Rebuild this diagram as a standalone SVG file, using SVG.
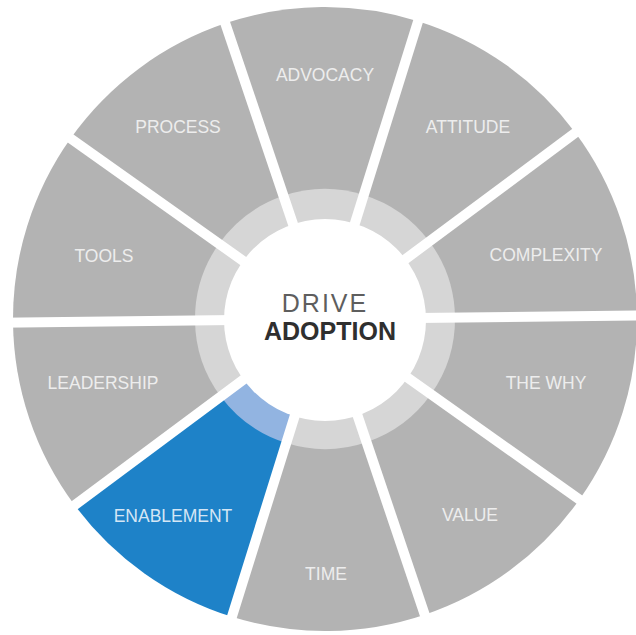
<svg xmlns="http://www.w3.org/2000/svg" xmlns:xlink="http://www.w3.org/1999/xlink" width="636" height="635" viewBox="0 0 636 635">
  <defs>
    <!-- 36-degree wedge of the outer wheel and of the inner ring, drawn from angle 0 counterclockwise -->
    <path id="wedge" d="M0,0 L312,0 A312,312 0 0 0 252.41,-183.39 Z"/>
    <path id="ringWedge" d="M0,0 L130,0 A130,130 0 0 0 105.17,-76.41 Z"/>
    <line id="divider" x1="0" y1="0" x2="340" y2="0"/>
    <style>
      .seg { fill: #b3b3b3; }
      .ring { fill: #d6d6d6; }
      .seg.active { fill: #1e82c8; }
      .ring.active { fill: #92b4e1; }
      .label { font-family: "Liberation Sans", Arial, sans-serif; font-size: 17.5px; fill: #ededed; text-anchor: middle; }
      .label.active { fill: #d4e6f5; }
      .divider { stroke: #ffffff; stroke-width: 10; }
      .title { font-family: "Liberation Sans", Arial, sans-serif; font-size: 25px; text-anchor: middle; }
    </style>
  </defs>

  <rect width="636" height="635" fill="#ffffff"/>

  <g id="complexity">
    <use xlink:href="#wedge" class="seg" transform="translate(325,319) rotate(-0.64)"/>
    <use xlink:href="#ringWedge" class="ring" transform="translate(325,319) rotate(-0.64)"/>
    <text class="label" x="546" y="261">COMPLEXITY</text>
  </g>
  <g id="attitude">
    <use xlink:href="#wedge" class="seg" transform="translate(325,319) rotate(-36.64)"/>
    <use xlink:href="#ringWedge" class="ring" transform="translate(325,319) rotate(-36.64)"/>
    <text class="label" x="468" y="133">ATTITUDE</text>
  </g>
  <g id="advocacy">
    <use xlink:href="#wedge" class="seg" transform="translate(325,319) rotate(-72.64)"/>
    <use xlink:href="#ringWedge" class="ring" transform="translate(325,319) rotate(-72.64)"/>
    <text class="label" x="325" y="81">ADVOCACY</text>
  </g>
  <g id="process">
    <use xlink:href="#wedge" class="seg" transform="translate(325,319) rotate(-108.64)"/>
    <use xlink:href="#ringWedge" class="ring" transform="translate(325,319) rotate(-108.64)"/>
    <text class="label" x="178" y="133">PROCESS</text>
  </g>
  <g id="tools">
    <use xlink:href="#wedge" class="seg" transform="translate(325,319) rotate(-144.64)"/>
    <use xlink:href="#ringWedge" class="ring" transform="translate(325,319) rotate(-144.64)"/>
    <text class="label" x="104" y="262">TOOLS</text>
  </g>
  <g id="leadership">
    <use xlink:href="#wedge" class="seg" transform="translate(325,319) rotate(-180.64)"/>
    <use xlink:href="#ringWedge" class="ring" transform="translate(325,319) rotate(-180.64)"/>
    <text class="label" x="103" y="389">LEADERSHIP</text>
  </g>
  <g id="enablement">
    <use xlink:href="#wedge" class="seg active" transform="translate(325,319) rotate(-216.64)"/>
    <use xlink:href="#ringWedge" class="ring active" transform="translate(325,319) rotate(-216.64)"/>
    <text class="label active" x="173" y="522">ENABLEMENT</text>
  </g>
  <g id="time">
    <use xlink:href="#wedge" class="seg" transform="translate(325,319) rotate(-252.64)"/>
    <use xlink:href="#ringWedge" class="ring" transform="translate(325,319) rotate(-252.64)"/>
    <text class="label" x="326" y="580">TIME</text>
  </g>
  <g id="value">
    <use xlink:href="#wedge" class="seg" transform="translate(325,319) rotate(-288.64)"/>
    <use xlink:href="#ringWedge" class="ring" transform="translate(325,319) rotate(-288.64)"/>
    <text class="label" x="470" y="521">VALUE</text>
  </g>
  <g id="the-why">
    <use xlink:href="#wedge" class="seg" transform="translate(325,319) rotate(-324.64)"/>
    <use xlink:href="#ringWedge" class="ring" transform="translate(325,319) rotate(-324.64)"/>
    <text class="label" x="546" y="389">THE WHY</text>
  </g>

  <!-- white spokes separating the wedges -->
  <g id="dividers" class="divider">
    <use xlink:href="#divider" transform="translate(325,319) rotate(-0.64)"/>
    <use xlink:href="#divider" transform="translate(325,319) rotate(-36.64)"/>
    <use xlink:href="#divider" transform="translate(325,319) rotate(-72.64)"/>
    <use xlink:href="#divider" transform="translate(325,319) rotate(-108.64)"/>
    <use xlink:href="#divider" transform="translate(325,319) rotate(-144.64)"/>
    <use xlink:href="#divider" transform="translate(325,319) rotate(-180.64)"/>
    <use xlink:href="#divider" transform="translate(325,319) rotate(-216.64)"/>
    <use xlink:href="#divider" transform="translate(325,319) rotate(-252.64)"/>
    <use xlink:href="#divider" transform="translate(325,319) rotate(-288.64)"/>
    <use xlink:href="#divider" transform="translate(325,319) rotate(-324.64)"/>
  </g>

  <g id="hub">
    <circle cx="325" cy="320" r="101" fill="#ffffff"/>
    <text class="title" x="325" y="312" fill="#5e5e5e" letter-spacing="2">DRIVE</text>
    <text class="title" x="330" y="340" fill="#2f2f2f" font-weight="bold">ADOPTION</text>
  </g>
</svg>
